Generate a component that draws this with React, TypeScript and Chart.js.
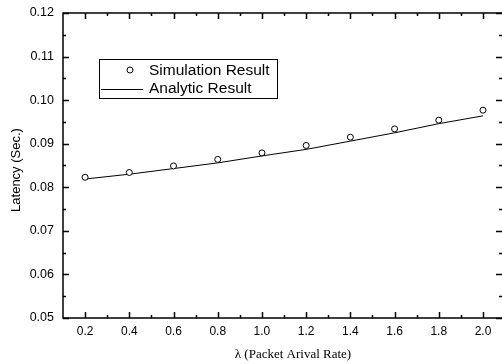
import React, { useEffect, useRef } from "react";
import { Chart, registerables } from "chart.js";

Chart.register(...registerables);

const xValues = [0.2, 0.4, 0.6, 0.8, 1.0, 1.2, 1.4, 1.6, 1.8, 2.0];
const simulation = [0.0823, 0.0834, 0.0849, 0.0864, 0.0879, 0.0896, 0.0915, 0.0934, 0.0954, 0.0977];
const analytic = [0.0819, 0.083, 0.0843, 0.0856, 0.0872, 0.0887, 0.0906, 0.0925, 0.0946, 0.0964];
const xTicks = [0.2, 0.4, 0.6, 0.8, 1.0, 1.2, 1.4, 1.6, 1.8, 2.0];
const xMinor = [0.3, 0.5, 0.7, 0.9, 1.1, 1.3, 1.5, 1.7, 1.9];
const yTicks = [0.05, 0.06, 0.07, 0.08, 0.09, 0.1, 0.11, 0.12];
const yMinor = [0.055, 0.065, 0.075, 0.085, 0.095, 0.105, 0.115];
const legendLabels = ["Simulation Result", "Analytic Result"];
const xTitle = "λ (Packet Arival Rate)";
const yTitle = "Latency (Sec.)";

const SANS = "'Liberation Sans', Arial, sans-serif";
const SERIF = "'Liberation Serif', 'Times New Roman', serif";

const decorPlugin = {
  id: "decor",
  afterDraw(chart: any) {
    const ctx = chart.ctx;
    const a = chart.chartArea;
    const xs = chart.scales.x;
    const ys = chart.scales.y;
    ctx.save();
    ctx.strokeStyle = "#000";
    ctx.lineWidth = 1.5;
    const drawX = (v: number, len: number) => {
      const px = Math.round(xs.getPixelForValue(v)) + 0.5;
      ctx.beginPath();
      ctx.moveTo(px, a.bottom);
      ctx.lineTo(px, a.bottom - len);
      ctx.moveTo(px, a.top);
      ctx.lineTo(px, a.top + len);
      ctx.stroke();
    };
    const drawY = (v: number, len: number) => {
      const py = Math.round(ys.getPixelForValue(v)) + 0.5;
      ctx.beginPath();
      ctx.moveTo(a.left, py);
      ctx.lineTo(a.left + len, py);
      ctx.moveTo(a.right, py);
      ctx.lineTo(a.right - len, py);
      ctx.stroke();
    };
    xTicks.forEach((v) => drawX(v, 6));
    xMinor.forEach((v) => drawX(v, 3));
    yTicks.forEach((v) => drawY(v, 6));
    yMinor.forEach((v) => drawY(v, 3));

    ctx.lineWidth = 1.5;
    ctx.beginPath();
    ctx.moveTo(a.right, a.top);
    ctx.lineTo(a.left, a.top);
    ctx.lineTo(a.left, a.bottom);
    ctx.lineTo(a.right, a.bottom);
    ctx.stroke();

    // legend box
    const lx = 99, ly = 59, lw = 178, lh = 39;
    ctx.lineWidth = 1;
    ctx.strokeRect(lx + 0.5, ly + 0.5, lw, lh);
    ctx.beginPath();
    ctx.arc(130, 70, 3, 0, Math.PI * 2);
    ctx.stroke();
    ctx.beginPath();
    ctx.moveTo(101, 89.5);
    ctx.lineTo(143, 89.5);
    ctx.stroke();
    ctx.fillStyle = "#000";
    ctx.font = "15.5px " + SANS;
    ctx.textBaseline = "middle";
    ctx.textAlign = "left";
    ctx.fillText(legendLabels[0], 149, 71);
    ctx.fillText(legendLabels[1], 149, 89);

    // titles
    ctx.font = "13px " + SERIF;
    ctx.textAlign = "center";
    ctx.fillText(xTitle, 293, 355);
    ctx.save();
    ctx.translate(16, 170);
    ctx.rotate(-Math.PI / 2);
    ctx.font = "13px " + SANS;
    ctx.fillText(yTitle, 0, 0);
    ctx.restore();
    ctx.restore();
  },
};

export default function App() {
  const ref = useRef<HTMLCanvasElement>(null);
  useEffect(() => {
    if (!ref.current) return;
    const chart = new Chart(ref.current, {
      type: "line",
      data: {
        datasets: [
          {
            label: legendLabels[0],
            data: xValues.map((x, i) => ({ x, y: simulation[i] })),
            showLine: false,
            pointRadius: 3,
            pointBorderWidth: 1,
            pointBorderColor: "#000",
            pointBackgroundColor: "rgba(255,255,255,1)",
            order: 0,
          },
          {
            label: legendLabels[1],
            data: xValues.map((x, i) => ({ x, y: analytic[i] })),
            borderColor: "#000",
            borderWidth: 1,
            pointRadius: 0,
            tension: 0,
            order: 1,
          },
        ],
      },
      options: {
        animation: false,
        responsive: false,
        maintainAspectRatio: false,
        layout: { autoPadding: false, padding: { top: 13, right: 0, left: 0, bottom: 0 } },
        plugins: { legend: { display: false }, tooltip: { enabled: false } },
        scales: {
          x: {
            type: "linear",
            min: 0.1,
            max: 2.086,
            afterBuildTicks: (s: any) => {
              s.ticks = xTicks.map((v) => ({ value: v }));
            },
            afterFit: (s: any) => {
              s.height = 46;
              s.paddingLeft = 0;
              s.paddingRight = 0;
            },
            grid: { display: false, drawTicks: false },
            border: { display: false },
            ticks: {
              color: "#000",
              font: { family: SANS, size: 12 },
              padding: 6,
              maxRotation: 0,
              autoSkip: false,
              callback: (v: any) => Number(v).toFixed(1),
            },
          },
          y: {
            type: "linear",
            min: 0.05,
            max: 0.12,
            afterBuildTicks: (s: any) => {
              s.ticks = yTicks.map((v) => ({ value: v }));
            },
            afterFit: (s: any) => {
              s.width = 63;
              s.paddingTop = 0;
              s.paddingBottom = 0;
            },
            grid: { display: false, drawTicks: false },
            border: { display: false },
            ticks: {
              color: "#000",
              font: { family: SANS, size: 12.5 },
              padding: 9,
              autoSkip: false,
              callback: (v: any) => Number(v).toFixed(2),
            },
          },
        },
      },
      plugins: [decorPlugin],
    });
    return () => chart.destroy();
  }, []);
  return (
    <div style={{ position: "fixed", left: 0, top: 0, width: 502, height: 364, background: "#fff" }}>
      <canvas ref={ref} width={502} height={364} style={{ width: 502, height: 364 }} />
    </div>
  );
}
